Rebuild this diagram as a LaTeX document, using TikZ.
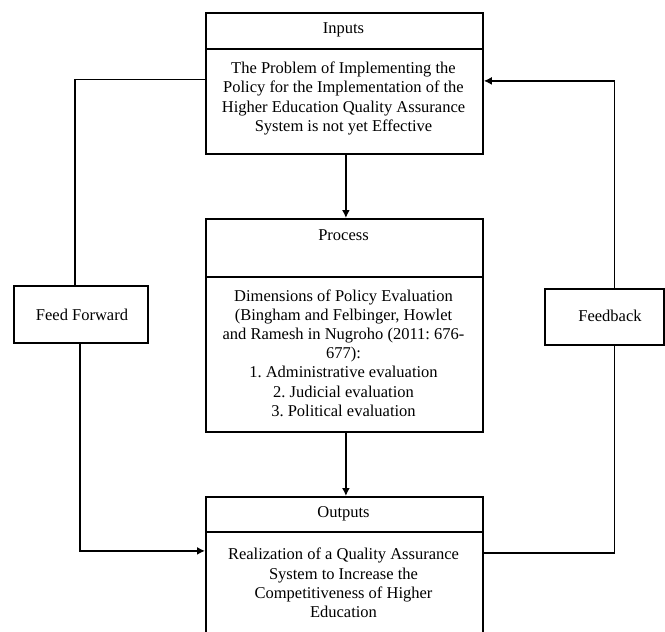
\documentclass[tikz,border=0pt]{standalone}
\usepackage{fontspec}
\setmainfont{Liberation Serif}
\usetikzlibrary{arrows.meta}
\frenchspacing
\begin{document}
\begin{tikzpicture}[x=1pt,y=-1pt,
  box/.style={draw=black, line width=1.8pt, rectangle, inner sep=0pt, anchor=north west},
  txt/.style={align=center, font=\fontsize{16.5}{19.2}\selectfont, inner sep=0pt},
  conn/.style={draw=black, line width=1.8pt},
  arr/.style={conn, -{Latex[length=8pt,width=8pt]}}]
\useasboundingbox (0,0) rectangle (665,632);
\clip (0,0) rectangle (665,632);
% Inputs
\node[box, minimum width=277pt, minimum height=36pt] (inT) at (205,12) {};
\node[box, minimum width=277pt, minimum height=105pt] (inB) at (205,48) {};
\node[txt] (inTt) at (343.5,30) {Inputs};
\node[txt] (inBt) at (343.5,98.5) {The Problem of Implementing the\\Policy for the Implementation of the\\Higher Education Quality Assurance\\System is not yet Effective};
% Process
\node[box, minimum width=277pt, minimum height=58pt] (prT) at (205,218) {};
\node[box, minimum width=277pt, minimum height=155pt] (prB) at (205,276) {};
\node[txt] (prTt) at (343.5,235) {Process};
\node[txt] (prBt) at (343.5,353) {Dimensions of Policy Evaluation\\(Bingham and Felbinger, Howlet\\and Ramesh in Nugroho (2011: 676-\\677):\\1. Administrative evaluation\\2. Judicial evaluation\\3. Political evaluation};
% Outputs
\node[box, minimum width=277pt, minimum height=35pt] (ouT) at (205,496) {};
\node[box, minimum width=277pt, minimum height=110pt] (ouB) at (205,531) {};
\node[txt] (ouTt) at (343.5,513.5) {Outputs};
\node[txt] (ouBt) at (343.5,583) {Realization of a Quality Assurance\\System to Increase the\\Competitiveness of Higher\\Education};
% Side boxes
\node[box, minimum width=134pt, minimum height=57pt] (ff) at (13,285) {};
\node[txt] (fft) at (82,315) {Feed Forward};
\node[box, minimum width=119pt, minimum height=56pt] (fb) at (544,288) {};
\node[txt] (fbt) at (610,316) {Feedback};
% Connectors
\draw[arr] ([xshift=1.5pt]inB.south) -- ([xshift=1.5pt]prT.north);
\draw[arr] ([xshift=1.5pt]prB.south) -- ([xshift=1.5pt]ouT.north);
\draw[conn] ([xshift=-6pt]ff.north) |- ([yshift=22pt]inB.west);
\draw[arr] ([xshift=-1pt]ff.south) |- ([yshift=36pt]ouB.west);
\draw[arr] ([xshift=10pt]fb.north) |- ([yshift=20.5pt]inB.east);
\draw[conn] ([xshift=10pt]fb.south) |- ([yshift=34pt]ouB.east);
\end{tikzpicture}
\end{document}
